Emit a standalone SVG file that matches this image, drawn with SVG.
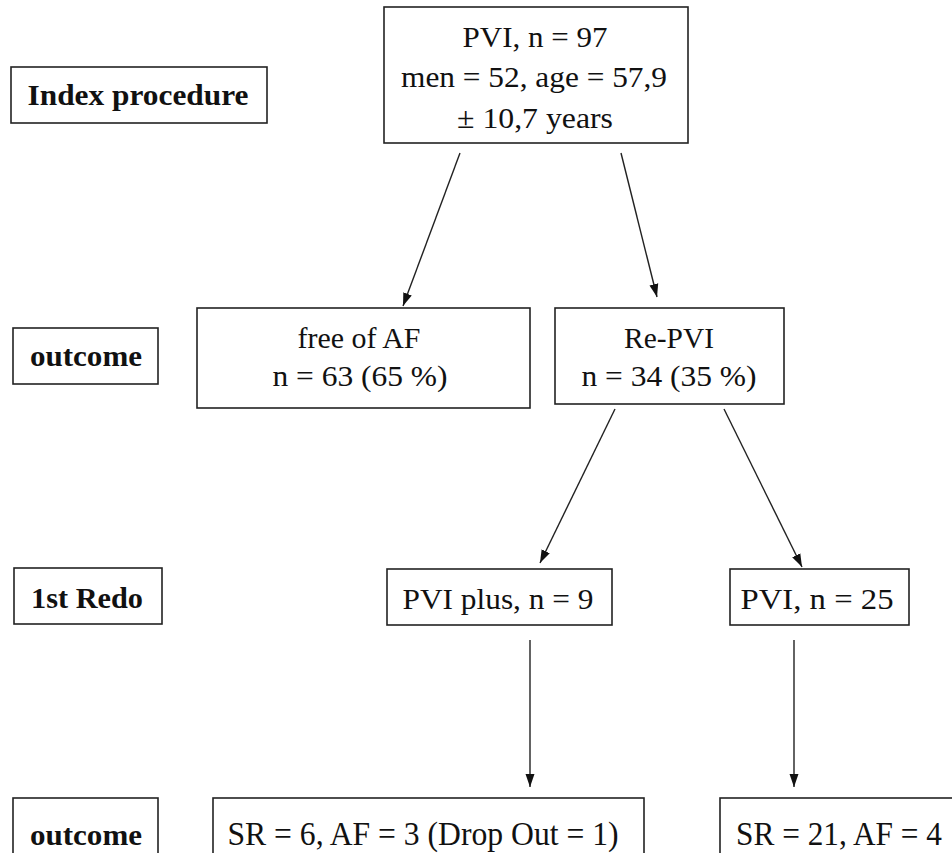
<svg xmlns="http://www.w3.org/2000/svg" width="952" height="853" viewBox="0 0 952 853">
<defs>
<marker id="ah" markerWidth="14" markerHeight="12" refX="13" refY="6" orient="auto" markerUnits="userSpaceOnUse">
<path d="M0,1.5 L13,6 L0,10.5 Z" fill="#111"/>
</marker>
<style>
.box{fill:#fff;stroke:#222;stroke-width:1.6}
.t{font-family:"Liberation Serif","Times New Roman",serif;font-size:29px;fill:#111;text-anchor:middle}
.b{font-family:"Liberation Serif","Times New Roman",serif;font-size:29px;font-weight:bold;fill:#111;text-anchor:middle}
.bt{font-family:"Liberation Serif","Times New Roman",serif;font-size:33px;fill:#111;text-anchor:middle}
.c{stroke:#222;stroke-width:1.4;fill:none;marker-end:url(#ah)}
</style>
</defs>
<rect width="952" height="853" fill="#fff"/>
<g id="label-index">
<rect class="box" x="11" y="67" width="256" height="56"/>
<text class="b" x="138" y="105" textLength="221" lengthAdjust="spacingAndGlyphs">Index procedure</text>
</g>
<g id="label-outcome1">
<rect class="box" x="13" y="328" width="145" height="56"/>
<text class="b" x="86" y="366" textLength="112" lengthAdjust="spacingAndGlyphs">outcome</text>
</g>
<g id="label-redo">
<rect class="box" x="14" y="568" width="148" height="56"/>
<text class="b" x="87" y="608" textLength="112" lengthAdjust="spacingAndGlyphs">1st Redo</text>
</g>
<g id="label-outcome2">
<rect class="box" x="13" y="798" width="145" height="70"/>
<text class="b" x="86" y="845" textLength="112" lengthAdjust="spacingAndGlyphs">outcome</text>
</g>
<g id="node-pvi">
<rect class="box" x="384" y="7" width="304" height="136"/>
<text class="t" x="535" y="47" textLength="145" lengthAdjust="spacingAndGlyphs">PVI, n = 97</text>
<text class="t" x="534" y="87" textLength="266" lengthAdjust="spacingAndGlyphs">men = 52, age = 57,9</text>
<text class="t" x="535" y="128" textLength="156" lengthAdjust="spacingAndGlyphs">± 10,7 years</text>
</g>
<g id="node-free">
<rect class="box" x="197" y="308" width="333" height="100"/>
<text class="t" x="359" y="348" textLength="123" lengthAdjust="spacingAndGlyphs">free of AF</text>
<text class="t" x="360" y="386" textLength="175" lengthAdjust="spacingAndGlyphs">n = 63 (65 %)</text>
</g>
<g id="node-repvi">
<rect class="box" x="555" y="308" width="229" height="96"/>
<text class="t" x="669" y="348" textLength="90" lengthAdjust="spacingAndGlyphs">Re-PVI</text>
<text class="t" x="669" y="386" textLength="175" lengthAdjust="spacingAndGlyphs">n = 34 (35 %)</text>
</g>
<g id="node-pviplus">
<rect class="box" x="387" y="569" width="225" height="56"/>
<text class="t" x="498" y="609" textLength="191" lengthAdjust="spacingAndGlyphs">PVI plus, n = 9</text>
</g>
<g id="node-pvi25">
<rect class="box" x="730" y="569" width="179" height="56"/>
<text class="t" x="817" y="609" textLength="153" lengthAdjust="spacingAndGlyphs">PVI, n = 25</text>
</g>
<g id="node-sr6">
<rect class="box" x="213" y="798" width="431" height="70"/>
<text class="bt" x="423" y="845" textLength="391" lengthAdjust="spacingAndGlyphs">SR = 6, AF = 3 (Drop Out = 1)</text>
</g>
<g id="node-sr21">
<rect class="box" x="720" y="798" width="250" height="70"/>
<text class="bt" x="839" y="845" textLength="206" lengthAdjust="spacingAndGlyphs">SR = 21, AF = 4</text>
</g>
<g id="connectors">
<line class="c" x1="460" y1="153" x2="403" y2="306"/>
<line class="c" x1="621" y1="153" x2="657" y2="297"/>
<line class="c" x1="615" y1="409" x2="540" y2="563"/>
<line class="c" x1="724" y1="409" x2="802" y2="567"/>
<line class="c" x1="530" y1="640" x2="530" y2="787"/>
<line class="c" x1="794" y1="640" x2="794" y2="787"/>
</g>
</svg>
